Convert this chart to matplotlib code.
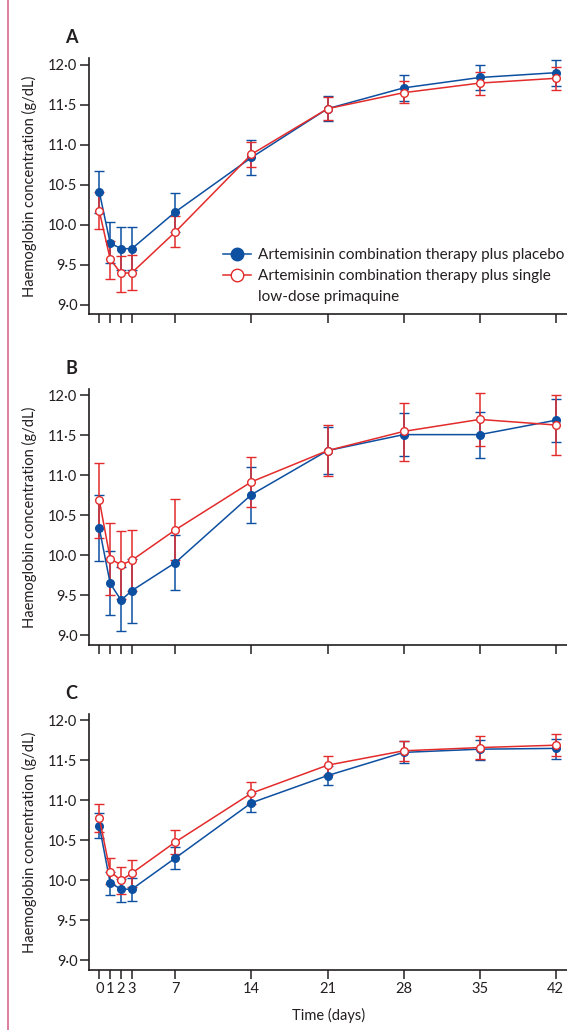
import matplotlib
matplotlib.use("Agg")
import matplotlib.pyplot as plt
from matplotlib.lines import Line2D

plt.rcParams['font.family'] = ['Lato', 'DejaVu Sans']

# days of measurement
days = [0, 1, 2, 3, 7, 14, 21, 28, 35, 42]
xtick_labels = ['0', '1', '2', '3', '7', '14', '21', '28', '35', '42']
yticks = [9.0, 9.5, 10.0, 10.5, 11.0, 11.5, 12.0]
ytick_labels = ['9·0', '9·5', '10·0', '10·5', '11·0', '11·5', '12·0']

# panel A
a_placebo = [10.41, 9.77, 9.70, 9.70, 10.16, 10.84, 11.45, 11.71, 11.84, 11.90]
a_placebo_lo = [10.14, 9.52, 9.43, 9.43, 9.91, 10.62, 11.29, 11.55, 11.68, 11.73]
a_placebo_hi = [10.67, 10.03, 9.97, 9.97, 10.40, 11.06, 11.61, 11.87, 12.00, 12.06]
a_pq = [10.17, 9.57, 9.39, 9.40, 9.91, 10.88, 11.45, 11.65, 11.77, 11.83]
a_pq_lo = [9.94, 9.32, 9.16, 9.18, 9.72, 10.72, 11.31, 11.52, 11.62, 11.68]
a_pq_hi = [10.41, 9.80, 9.61, 9.62, 10.11, 11.03, 11.60, 11.80, 11.91, 11.97]

# panel B
b_placebo = [10.34, 9.65, 9.44, 9.56, 9.91, 10.76, 11.31, 11.51, 11.51, 11.69]
b_placebo_lo = [9.93, 9.25, 9.05, 9.15, 9.57, 10.40, 11.02, 11.24, 11.22, 11.42]
b_placebo_hi = [10.75, 10.06, 9.85, 9.96, 10.26, 11.11, 11.60, 11.78, 11.79, 11.96]
b_pq = [10.69, 9.96, 9.88, 9.94, 10.32, 10.92, 11.31, 11.55, 11.70, 11.63]
b_pq_lo = [10.22, 9.50, 9.45, 9.55, 9.94, 10.61, 10.99, 11.18, 11.37, 11.25]
b_pq_hi = [11.16, 10.41, 10.30, 10.32, 10.70, 11.23, 11.63, 11.90, 12.03, 12.00]

# panel C
c_placebo = [10.68, 9.97, 9.89, 9.89, 10.28, 10.97, 11.31, 11.60, 11.64, 11.65]
c_placebo_lo = [10.53, 9.82, 9.73, 9.74, 10.14, 10.85, 11.19, 11.47, 11.51, 11.52]
c_placebo_hi = [10.84, 10.11, 10.02, 10.03, 10.42, 11.09, 11.43, 11.74, 11.76, 11.77]
c_pq = [10.78, 10.11, 10.00, 10.09, 10.48, 11.09, 11.44, 11.62, 11.66, 11.69]
c_pq_lo = [10.61, 9.95, 9.83, 9.92, 10.33, 10.96, 11.32, 11.49, 11.52, 11.55]
c_pq_hi = [10.95, 10.28, 10.17, 10.25, 10.63, 11.23, 11.56, 11.74, 11.80, 11.83]

panels = [
    ('A', a_placebo, a_placebo_lo, a_placebo_hi, a_pq, a_pq_lo, a_pq_hi),
    ('B', b_placebo, b_placebo_lo, b_placebo_hi, b_pq, b_pq_lo, b_pq_hi),
    ('C', c_placebo, c_placebo_lo, c_placebo_hi, c_pq, c_pq_lo, c_pq_hi),
]

blue = '#0d4fa0'
red = '#e32b2b'
ink = '#231f20'

fig = plt.figure(figsize=(5.67, 10.30), dpi=100)
bottoms = [0.6949, 0.3738, 0.0583]

for (letter, pl, pl_lo, pl_hi, pq, pq_lo, pq_hi), bot in zip(panels, bottoms):
    ax = fig.add_axes([0.1575, bot, 0.8425, 0.2485])
    for y, lo, hi, col, face in [(pl, pl_lo, pl_hi, blue, blue),
                                 (pq, pq_lo, pq_hi, red, 'white')]:
        err = [[v - l for v, l in zip(y, lo)], [h - v for v, h in zip(y, hi)]]
        ax.errorbar(days, y, yerr=err, color=col, ecolor=col, lw=1.1,
                    elinewidth=1.1, capsize=3.6, capthick=1.8,
                    marker='o', ms=5.5, mfc=face, mec=col, mew=1.0)
    ax.set_xlim(-0.92, 43.03)
    ax.set_ylim(8.88, 12.08)
    ax.set_yticks(yticks)
    ax.set_yticklabels(ytick_labels)
    ax.set_xticks(days)
    if letter == 'C':
        ax.set_xticklabels(xtick_labels, fontsize=11)
        ax.set_xlabel('Time (days)', fontsize=10.5, color=ink, labelpad=9)
    else:
        ax.set_xticklabels([])
    for s in ['top', 'right']:
        ax.spines[s].set_visible(False)
    for s in ['left', 'bottom']:
        ax.spines[s].set_color(ink)
        ax.spines[s].set_linewidth(1.2)
    ax.tick_params(length=6.5, width=1.1, color=ink, labelcolor=ink,
                   labelsize=10.5, pad=2)
    ax.set_ylabel('Haemoglobin concentration (g/dL)', fontsize=10.5, color=ink)
    ax.yaxis.set_label_coords(-0.11, 0.5)
    ax.text(-0.038, 1.08, letter, transform=ax.transAxes, fontsize=13,
            fontweight='bold', color=ink, ha='center', va='center')

    if letter == 'A':
        handles = [
            Line2D([], [], color=blue, lw=1.1, marker='o', ms=9, mfc=blue, mec=blue),
            Line2D([], [], color=red, lw=1.1, marker='o', ms=9, mfc='white', mec=red, mew=1.0),
            Line2D([], [], alpha=0),
        ]
        labels = ['Artemisinin combination therapy plus placebo',
                  'Artemisinin combination therapy plus single',
                  'low-dose primaquine']
        ax.legend(handles, labels, loc='upper left', bbox_to_anchor=(0.28, 0.258),
                  frameon=False, fontsize=11, handlelength=1.8,
                  handletextpad=0.5, labelspacing=0.45, borderaxespad=0,
                  borderpad=0, labelcolor=ink)

fig.add_artist(Line2D([7.5 / 567, 7.5 / 567], [0, 1], color='#d46a8c', lw=1.2))

fig.savefig('out.png', dpi=100)
